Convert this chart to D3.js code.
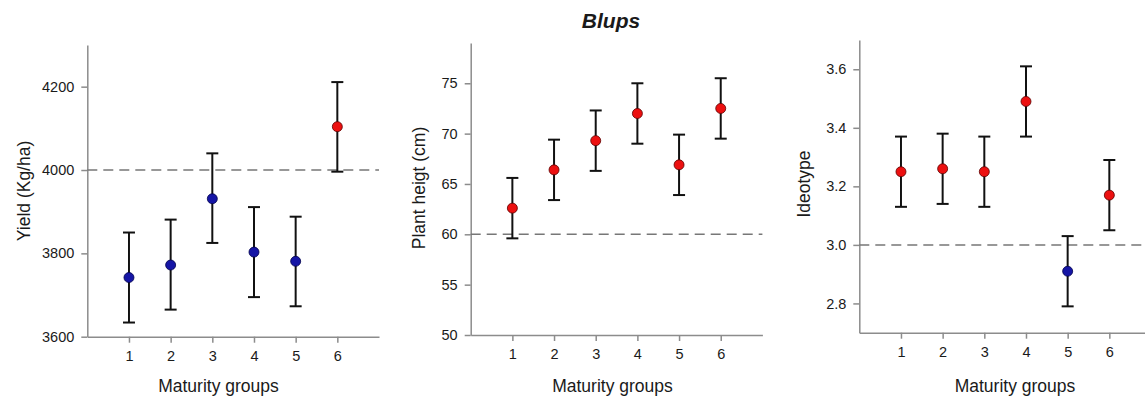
<!DOCTYPE html>
<html>
<head>
<meta charset="utf-8">
<script src="https://cdn.jsdelivr.net/npm/d3@7"></script>
<style>
  body { margin: 0; background: #fff; }
  text { font-family: "Liberation Sans", Arial, sans-serif; fill: #1a1a1a; }
</style>
</head>
<body>
<div id="blups"></div>
<script>
// maturity groups on the x axis
var groups = [1, 2, 3, 4, 5, 6];

// yield blups (Kg/ha) with interval ends
var yieldMean = [3742, 3772, 3931, 3803, 3781, 4104];
var yieldLow  = [3634, 3665, 3825, 3695, 3673, 3996];
var yieldHigh = [3850, 3881, 4040, 3911, 3888, 4211];
var yieldTicks = [3600, 3800, 4000, 4200];
var yieldRef = 4000;

// plant height blups (cm)
var heightMean = [62.6, 66.4, 69.3, 72.0, 66.9, 72.5];
var heightLow  = [59.6, 63.4, 66.3, 69.0, 63.9, 69.5];
var heightHigh = [65.6, 69.4, 72.3, 75.0, 69.9, 75.5];
var heightTicks = [50, 55, 60, 65, 70, 75];
var heightRef = 60;

// ideotype blups
var ideoMean = [3.25, 3.26, 3.25, 3.49, 2.91, 3.17];
var ideoLow  = [3.13, 3.14, 3.13, 3.37, 2.79, 3.05];
var ideoHigh = [3.37, 3.38, 3.37, 3.61, 3.03, 3.29];
var ideoTicks = [2.8, 3.0, 3.2, 3.4, 3.6];
var ideoRef = 3.0;

var W = 1145, H = 403;

var svg = d3.select("#blups")
  .append("svg")
    .attr("width", W)
    .attr("height", H);

// title
svg.append("text")
  .attr("x", 611)
  .attr("y", 28)
  .attr("text-anchor", "middle")
  .style("font-size", "21px")
  .style("font-weight", "bold")
  .style("font-style", "italic")
  .text("Blups");

function panel(p) {
  var x = d3.scaleLinear().domain([0, 7]).range([p.left, p.left + 291.7]);
  var y = d3.scaleLinear().domain(p.domain).range([p.bottom, p.top]);
  var g = svg.append("g");

  // x axis
  var xa = g.append("g")
    .attr("transform", "translate(0," + p.bottom + ")")
    .call(d3.axisBottom(x).tickValues(groups).tickFormat(d3.format("d"))
      .tickSize(6).tickSizeOuter(0).tickPadding(8));
  // y axis
  var ya = g.append("g")
    .attr("transform", "translate(" + p.left + ",0)")
    .call(d3.axisLeft(y).tickValues(p.ticks).tickFormat(p.fmt)
      .tickSize(6).tickSizeOuter(0).tickPadding(7));

  [xa, ya].forEach(function(a) {
    a.select(".domain").attr("stroke", "#8c8c8c").attr("stroke-width", 1.5);
    a.selectAll(".tick line").attr("stroke", "#8c8c8c").attr("stroke-width", 1.5);
    a.selectAll(".tick text").style("font-size", "14.5px").attr("fill", "#1a1a1a")
      .style("font-family", "'Liberation Sans', Arial, sans-serif");
  });

  // dashed reference line
  g.append("line")
    .attr("x1", p.left).attr("x2", x(7))
    .attr("y1", y(p.ref)).attr("y2", y(p.ref))
    .attr("stroke", "#777")
    .attr("stroke-width", 1.5)
    .attr("stroke-dasharray", "10,6");

  var data = groups.map(function(d, i) {
    return {g: d, m: p.mean[i], lo: p.low[i], hi: p.high[i]};
  });

  // error bars
  var bars = g.selectAll("bar").data(data).enter().append("g");
  bars.append("line")
    .attr("x1", function(d) { return x(d.g); })
    .attr("x2", function(d) { return x(d.g); })
    .attr("y1", function(d) { return y(d.lo); })
    .attr("y2", function(d) { return y(d.hi); })
    .attr("stroke", "#111").attr("stroke-width", 2);
  ["lo", "hi"].forEach(function(k) {
    bars.append("line")
      .attr("x1", function(d) { return x(d.g) - 6; })
      .attr("x2", function(d) { return x(d.g) + 6; })
      .attr("y1", function(d) { return y(d[k]); })
      .attr("y2", function(d) { return y(d[k]); })
      .attr("stroke", "#111").attr("stroke-width", 2);
  });

  // points: red above the reference, blue below
  g.selectAll("pt").data(data).enter().append("circle")
    .attr("cx", function(d) { return x(d.g); })
    .attr("cy", function(d) { return y(d.m); })
    .attr("r", 5)
    .style("fill", function(d) { return d.m > p.ref ? "#ec1010" : "#1515a5"; })
    .attr("stroke", function(d) { return d.m > p.ref ? "#5a0000" : "#00004a"; })
    .attr("stroke-width", 0.8);

  // axis titles
  g.append("text")
    .attr("x", p.titleX)
    .attr("y", 392)
    .attr("text-anchor", "middle")
    .style("font-size", "17.5px")
    .text("Maturity groups");
  g.append("text")
    .attr("transform", "translate(" + p.labelX + "," + p.labelY + ")rotate(-90)")
    .attr("text-anchor", "middle")
    .style("font-size", "17.5px")
    .text(p.label);
}

panel({left: 87.3, top: 45, bottom: 336.7, domain: [3600, 4300], ticks: yieldTicks,
  fmt: d3.format("d"), ref: yieldRef, mean: yieldMean, low: yieldLow, high: yieldHigh,
  label: "Yield (Kg/ha)", labelX: 30, labelY: 191, titleX: 218.5});
panel({left: 470.7, top: 43, bottom: 335, domain: [50, 79], ticks: heightTicks,
  fmt: d3.format("d"), ref: heightRef, mean: heightMean, low: heightLow, high: heightHigh,
  label: "Plant heigt (cm)", labelX: 425, labelY: 188, titleX: 612.5});
panel({left: 859.3, top: 40, bottom: 332.7, domain: [2.7, 3.7], ticks: ideoTicks,
  fmt: d3.format(".1f"), ref: ideoRef, mean: ideoMean, low: ideoLow, high: ideoHigh,
  label: "Ideotype", labelX: 810, labelY: 184, titleX: 1015});
</script>
</body>
</html>
